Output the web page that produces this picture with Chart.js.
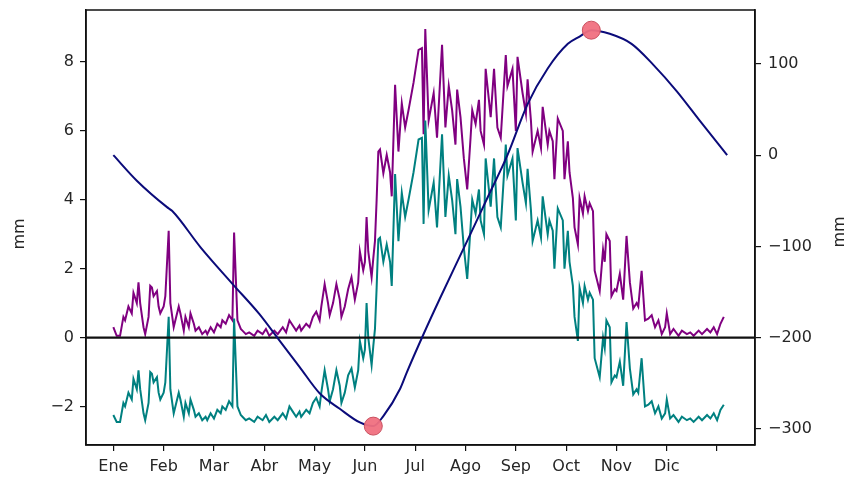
<!DOCTYPE html>
<html>
<head>
<meta charset="utf-8">
<script src="https://cdn.jsdelivr.net/npm/chart.js@4.4.1/dist/chart.umd.min.js"></script>
<style>
  html, body { margin: 0; padding: 0; background: #fff; }
  #wrap { width: 849px; height: 483px; }
</style>
</head>
<body>
<div id="wrap"><canvas id="chart" width="849" height="483"></canvas></div>
<script>
// ── Balance hídrico diario (lectura aproximada del gráfico original) ──────────
const MONTHS = ['Ene', 'Feb', 'Mar', 'Abr', 'May', 'Jun', 'Jul', 'Ago', 'Sep', 'Oct', 'Nov', 'Dic', ''];
const TICK_DAYS = [0, 30, 60, 90, 120, 150, 180, 210, 240, 270, 300, 330, 360];
const LEFT_TICKS = [-2, 0, 2, 4, 6, 8];
const RIGHT_TICKS = [-300, -200, -100, 0, 100];

// días (índice del año) para las dos series diarias
const days = [0,2,4,6,7,9,11,12,14,15,16,18,19,21,22,23,24,26,27,28,30,31,33,34,36,37,39,40,42,43,45,46,48,49,51,53,55,56,58,60,62,64,65,67,69,71,72,74,76,77,79,81,84,86,89,91,93,96,98,101,103,105,107,109,111,112,115,117,119,121,123,124,126,128,129,131,133,135,136,138,140,142,144,146,147,149,150,151,152,154,155,156,157,158,159,161,163,165,166,168,170,172,174,176,179,182,184,185,186,188,191,193,196,198,200,202,204,205,207,209,211,213,214,216,218,219,221,222,225,227,229,231,234,235,238,240,241,244,246,247,249,250,252,253,255,256,259,260,262,263,265,268,269,271,272,274,275,277,278,280,281,283,284,286,287,290,292,293,294,296,297,299,300,302,304,306,308,310,312,313,315,317,319,321,323,325,327,329,330,332,334,337,339,342,344,346,349,351,354,356,358,360,362,364];

// serie morada (mm)
const purpleVals = [0.3,0.05,0.05,0.6,0.5,0.9,0.7,1.3,1.0,1.6,1.0,0.3,0.1,0.6,1.5,1.45,1.2,1.35,0.9,0.7,0.9,1.2,3.1,1.0,0.3,0.5,0.9,0.7,0.2,0.6,0.3,0.7,0.4,0.2,0.3,0.1,0.2,0.1,0.3,0.15,0.4,0.3,0.5,0.4,0.65,0.5,3.05,0.5,0.25,0.2,0.1,0.15,0.05,0.2,0.1,0.25,0.05,0.2,0.1,0.3,0.15,0.5,0.35,0.2,0.35,0.2,0.4,0.3,0.6,0.75,0.5,0.9,1.55,1.0,0.65,1.0,1.55,1.1,0.6,0.9,1.4,1.75,1.1,1.6,2.5,1.95,2.2,3.5,2.5,1.75,2.3,2.8,4.0,5.4,5.46,4.77,5.3,4.8,4.1,7.34,5.4,6.8,6.1,6.6,7.4,8.35,8.4,5.9,8.96,6.3,7.1,5.8,8.5,6.1,7.3,6.6,5.6,7.2,6.4,5.2,4.3,5.8,6.6,6.2,6.9,6.0,5.6,7.8,6.4,7.8,6.1,5.8,8.2,7.3,7.8,6.0,8.15,7.1,6.5,7.5,6.3,5.4,5.8,6.0,5.5,6.7,5.6,6.0,5.7,4.6,6.36,6.0,4.6,5.7,4.8,4.05,3.2,2.7,4.05,3.6,4.1,3.67,3.9,3.67,1.94,1.35,2.55,2.2,3.0,2.8,1.2,1.4,1.35,1.85,1.1,2.95,1.6,0.84,1.0,0.9,1.94,0.5,0.55,0.65,0.3,0.5,0.1,0.3,0.7,0.1,0.25,0.05,0.2,0.1,0.15,0.05,0.2,0.1,0.25,0.15,0.3,0.1,0.4,0.6];

// serie verde azulado (mm)
const tealVals = [-2.25,-2.45,-2.45,-1.9,-2.0,-1.6,-1.8,-1.2,-1.5,-0.95,-1.5,-2.2,-2.4,-1.9,-1.0,-1.05,-1.3,-1.15,-1.6,-1.8,-1.6,-1.3,0.6,-1.5,-2.2,-2.0,-1.6,-1.8,-2.3,-1.9,-2.2,-1.8,-2.1,-2.3,-2.2,-2.4,-2.3,-2.4,-2.2,-2.35,-2.1,-2.2,-2.0,-2.1,-1.85,-2.0,0.55,-2.0,-2.25,-2.3,-2.4,-2.35,-2.45,-2.3,-2.4,-2.25,-2.45,-2.3,-2.4,-2.2,-2.35,-2.0,-2.15,-2.3,-2.15,-2.3,-2.1,-2.2,-1.9,-1.75,-2.0,-1.6,-0.95,-1.5,-1.85,-1.5,-0.95,-1.4,-1.9,-1.6,-1.1,-0.9,-1.45,-0.95,-0.1,-0.6,-0.35,1.0,0.0,-0.8,-0.25,0.25,1.45,2.85,2.9,2.2,2.7,2.2,1.5,4.75,2.8,4.2,3.5,4.0,4.8,5.75,5.8,3.3,6.3,3.7,4.5,3.2,5.9,3.5,4.7,4.0,3.0,4.6,3.8,2.6,1.7,3.2,4.0,3.6,4.3,3.4,3.0,5.2,3.8,5.2,3.5,3.2,5.6,4.7,5.2,3.4,5.5,4.5,3.9,4.9,3.7,2.8,3.2,3.4,2.9,4.1,3.0,3.4,3.1,2.0,3.75,3.4,2.0,3.1,2.2,1.5,0.6,-0.1,1.45,1.0,1.5,1.1,1.3,1.1,-0.6,-1.15,0.0,-0.3,0.5,0.3,-1.3,-1.1,-1.15,-0.7,-1.4,0.45,-0.9,-1.65,-1.5,-1.6,-0.6,-2.0,-1.95,-1.85,-2.2,-2.0,-2.35,-2.2,-1.8,-2.35,-2.25,-2.45,-2.3,-2.4,-2.35,-2.45,-2.3,-2.4,-2.25,-2.35,-2.2,-2.4,-2.1,-1.95];

// acumulado (eje derecho, mm)
const navyDays = [0,14,32,35,52,71,87,99,111,123,135,147,155,161,171,175,185,195,211,223,235,247,259,271,278,285,296,309,322,336,350,366];
const navyVals = [0,-28,-57,-61,-101,-141,-174,-203,-232,-261,-278,-293,-297,-286,-256,-238,-196,-156,-94,-47,0,56,95,122,130,137,133,122,99,70,37,0];

// mínimo y máximo marcados
const markDays = [155, 285];
const markVals = [-297, 137];

const X_MIN = -16.3, X_MAX = 382.6;
const FONT = '"DejaVu Sans", sans-serif';
const TXT = '#262626';

const pts = (xs, ys) => xs.map((x, i) => ({ x: x, y: ys[i] }));
const minus = v => String(v).replace('-', '\u2212');

const framePlugin = {
    id: 'frame',
    afterDraw(chart) {
        const { ctx, chartArea: a } = chart;
        ctx.save();
        ctx.strokeStyle = '#111';
        ctx.lineWidth = 1.5;
        ctx.strokeRect(a.left, a.top, a.right - a.left, a.bottom - a.top);
        ctx.fillStyle = TXT;
        ctx.font = '16px ' + FONT;
        ctx.textAlign = 'center';
        ctx.textBaseline = 'middle';
        [[20, 234], [840, 232]].forEach(([x, y]) => {
            ctx.save();
            ctx.translate(x, y);
            ctx.rotate(-Math.PI / 2);
            ctx.fillText('mm', 0, 0);
            ctx.restore();
        });
        ctx.restore();
    }
};

const tickFont = { family: FONT, size: 16 };
const fitY = w => s => { s.width = w; s.paddingTop = 0; s.paddingBottom = 0; };

new Chart(document.getElementById('chart').getContext('2d'), {
    type: 'line',
    data: {
        datasets: [
            {
                type: 'scatter',
                data: pts(markDays, markVals),
                yAxisID: 'y2',
                pointRadius: 9,
                pointBackgroundColor: 'rgba(240, 112, 128, 0.95)',
                pointBorderColor: '#c9505f',
                pointBorderWidth: 1,
                order: 0,
            },
            {
                data: pts(navyDays, navyVals),
                yAxisID: 'y2',
                borderColor: '#0b0b7a',
                borderWidth: 2,
                pointRadius: 0,
                cubicInterpolationMode: 'monotone',
                order: 1,
            },
            {
                data: pts([X_MIN, X_MAX], [0, 0]),
                yAxisID: 'y',
                borderColor: '#111',
                borderWidth: 2.2,
                pointRadius: 0,
                order: 2,
            },
            {
                data: pts(days, tealVals),
                yAxisID: 'y',
                borderColor: '#008080',
                borderWidth: 2,
                pointRadius: 0,
                tension: 0,
                order: 3,
            },
            {
                data: pts(days, purpleVals),
                yAxisID: 'y',
                borderColor: '#800080',
                borderWidth: 2,
                pointRadius: 0,
                tension: 0,
                order: 4,
            },
        ],
    },
    options: {
        responsive: false,
        animation: false,
        devicePixelRatio: 1,
        layout: { padding: { top: 8, left: 0, right: 0, bottom: 0 } },
        plugins: { legend: { display: false }, tooltip: { enabled: false } },
        scales: {
            x: {
                type: 'linear',
                min: X_MIN,
                max: X_MAX,
                afterBuildTicks: s => { s.ticks = TICK_DAYS.map(v => ({ value: v })); },
                afterFit: s => { s.height = 38; s.paddingLeft = 0; s.paddingRight = 0; },
                ticks: {
                    autoSkip: false,
                    maxRotation: 0,
                    padding: 6,
                    color: TXT,
                    font: tickFont,
                    callback: v => MONTHS[TICK_DAYS.indexOf(v)] ?? '',
                },
                grid: { drawOnChartArea: false, tickLength: 6, color: '#111', lineWidth: 1.2 },
                border: { color: '#111', width: 1.5 },
            },
            y: {
                position: 'left',
                min: -3.12,
                max: 9.51,
                afterBuildTicks: s => { s.ticks = LEFT_TICKS.map(v => ({ value: v })); },
                afterFit: fitY(86),
                ticks: { padding: 6, color: TXT, font: tickFont, callback: minus },
                grid: { drawOnChartArea: false, tickLength: 6, color: '#111', lineWidth: 1.2 },
                border: { color: '#111', width: 1.5 },
            },
            y2: {
                position: 'right',
                min: -317.7,
                max: 159.1,
                afterBuildTicks: s => { s.ticks = RIGHT_TICKS.map(v => ({ value: v })); },
                afterFit: fitY(94),
                ticks: { padding: 7, color: TXT, font: tickFont, callback: minus },
                grid: { drawOnChartArea: false, tickLength: 6, color: '#111', lineWidth: 1.2 },
                border: { color: '#111', width: 1.5 },
            },
        },
    },
    plugins: [framePlugin],
});
</script>
</body>
</html>
